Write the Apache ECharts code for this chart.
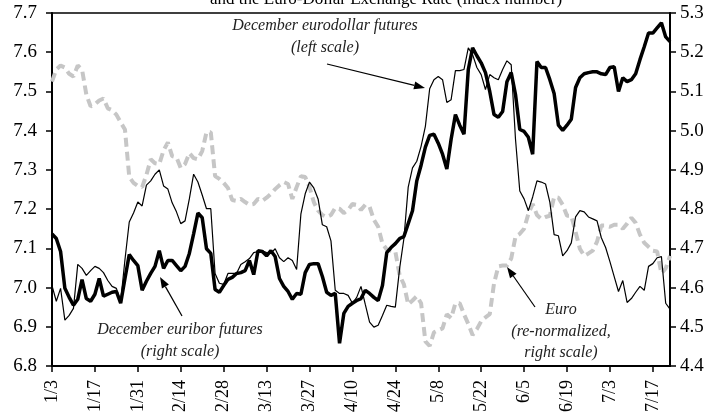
<!DOCTYPE html>
<html>
<head>
<meta charset="utf-8">
<script src="https://cdn.jsdelivr.net/npm/echarts@6/dist/echarts.min.js"></script>
<style>html,body{margin:0;padding:0;background:#fff}#c{width:714px;height:415px}</style>
</head>
<body>
<div id="c"></div>
<script>
const dates = [
"1/3","1/4","1/5","1/6","1/7","1/10","1/11","1/12","1/13","1/14",
"1/17","1/18","1/19","1/20","1/21","1/24","1/25","1/26","1/27","1/28",
"1/31","2/1","2/2","2/3","2/4","2/7","2/8","2/9","2/10","2/11",
"2/14","2/15","2/16","2/17","2/18","2/21","2/22","2/23","2/24","2/25",
"2/28","2/29","3/1","3/2","3/3","3/6","3/7","3/8","3/9","3/10",
"3/13","3/14","3/15","3/16","3/17","3/20","3/21","3/22","3/23","3/24",
"3/27","3/28","3/29","3/30","3/31","4/3","4/4","4/5","4/6","4/7",
"4/10","4/11","4/12","4/13","4/14","4/17","4/18","4/19","4/20","4/21",
"4/24","4/25","4/26","4/27","4/28","5/1","5/2","5/3","5/4","5/5",
"5/8","5/9","5/10","5/11","5/12","5/15","5/16","5/17","5/18","5/19",
"5/22","5/23","5/24","5/25","5/26","5/29","5/30","5/31","6/1","6/2",
"6/5","6/6","6/7","6/8","6/9","6/12","6/13","6/14","6/15","6/16",
"6/19","6/20","6/21","6/22","6/23","6/26","6/27","6/28","6/29","6/30",
"7/3","7/4","7/5","7/6","7/7","7/10","7/11","7/12","7/13","7/14",
"7/17","7/18","7/19","7/20","7/21"];

// December eurodollar futures (left scale)
const eurodollar = [
7.005,6.965,6.998,6.917,6.929,6.947,7.059,7.049,7.031,7.043,
7.054,7.049,7.038,7.018,7.003,6.998,6.965,7.071,7.167,7.190,
7.218,7.208,7.261,7.272,7.289,7.300,7.259,7.251,7.216,7.193,
7.163,7.170,7.226,7.289,7.269,7.236,7.201,7.201,7.036,7.011,
7.008,7.036,7.036,7.036,7.059,7.066,7.074,7.089,7.092,7.094,
7.089,7.087,7.099,7.076,7.066,7.076,7.069,7.046,7.188,7.239,
7.269,7.254,7.226,7.160,7.155,7.119,6.993,6.985,6.985,6.980,
6.960,6.975,7.003,6.957,6.912,6.899,6.904,6.929,6.955,6.952,
6.950,7.049,7.125,7.256,7.305,7.322,7.360,7.411,7.507,7.530,
7.538,7.530,7.472,7.479,7.553,7.553,7.556,7.611,7.594,7.561,
7.543,7.505,7.543,7.535,7.530,7.556,7.578,7.568,7.378,7.246,
7.226,7.196,7.231,7.272,7.269,7.264,7.218,7.135,7.132,7.081,
7.094,7.114,7.180,7.196,7.193,7.180,7.175,7.170,7.127,7.102,
7.066,7.028,6.990,7.018,6.962,6.972,6.988,7.003,6.993,7.054,
7.061,7.076,7.079,6.960,6.945];

// December euribor futures (right scale)
const euribor = [
4.737,4.725,4.692,4.598,4.575,4.555,4.570,4.620,4.572,4.565,
4.583,4.623,4.578,4.583,4.588,4.590,4.560,4.623,4.684,4.669,
4.656,4.593,4.616,4.636,4.654,4.694,4.649,4.669,4.669,4.656,
4.643,4.654,4.687,4.737,4.790,4.778,4.699,4.687,4.595,4.588,
4.605,4.621,4.626,4.636,4.638,4.643,4.669,4.633,4.694,4.692,
4.681,4.694,4.679,4.623,4.603,4.590,4.570,4.585,4.583,4.638,
4.659,4.661,4.661,4.628,4.588,4.580,4.585,4.458,4.534,4.552,
4.560,4.567,4.572,4.593,4.585,4.575,4.567,4.605,4.689,4.702,
4.712,4.725,4.730,4.763,4.796,4.872,4.912,4.958,4.988,4.991,
4.968,4.940,4.902,4.978,5.041,5.014,4.991,5.156,5.211,5.191,
5.173,5.148,5.100,5.041,5.034,5.049,5.125,5.148,5.092,5.003,
4.998,4.983,4.940,5.176,5.161,5.161,5.130,5.095,5.014,5.001,
5.014,5.029,5.110,5.135,5.145,5.148,5.150,5.150,5.145,5.143,
5.161,5.163,5.100,5.135,5.125,5.130,5.145,5.181,5.214,5.249,
5.249,5.262,5.275,5.239,5.227];

// Euro, re-normalized (right scale)
const euro = [
5.125,5.156,5.166,5.161,5.145,5.138,5.166,5.156,5.092,5.062,
5.067,5.077,5.082,5.057,5.052,5.041,5.021,5.003,4.882,4.867,
4.859,4.856,4.887,4.927,4.917,4.915,4.950,4.970,4.935,4.932,
4.905,4.915,4.943,4.930,4.927,4.948,4.996,4.996,4.884,4.877,
4.867,4.854,4.823,4.821,4.826,4.818,4.811,4.813,4.826,4.821,
4.829,4.839,4.851,4.861,4.869,4.864,4.826,4.856,4.884,4.882,
4.856,4.818,4.796,4.785,4.780,4.785,4.803,4.801,4.790,4.798,
4.813,4.811,4.798,4.811,4.806,4.773,4.755,4.712,4.697,4.694,
4.692,4.631,4.608,4.557,4.567,4.578,4.560,4.463,4.451,4.486,
4.491,4.496,4.532,4.522,4.560,4.560,4.532,4.507,4.479,4.494,
4.514,4.524,4.532,4.611,4.654,4.656,4.656,4.674,4.730,4.737,
4.750,4.788,4.813,4.785,4.775,4.780,4.783,4.831,4.829,4.811,
4.783,4.783,4.742,4.699,4.681,4.687,4.694,4.717,4.758,4.758,
4.755,4.760,4.760,4.750,4.763,4.778,4.765,4.735,4.714,4.704,
4.694,4.692,4.636,4.649,4.681];

const leftMin = 6.8, leftMax = 7.7, rightMin = 4.4, rightMax = 5.3, step = 0.1;
const titleText = "and the Euro-Dollar Exchange Rate (index number)";

const serif = '"Liberation Serif", "Times New Roman", serif';
const chart = echarts.init(document.getElementById('c'), null, {renderer: 'canvas'});

function arrow(x1, y1, x2, y2) {
  const dx = x2 - x1, dy = y2 - y1, len = Math.hypot(dx, dy);
  const ux = dx / len, uy = dy / len, L = 11, w = 4;
  const bx = x2 - L * ux, by = y2 - L * uy;
  return [
    {type: 'line', shape: {x1: x1, y1: y1, x2: bx, y2: by}, style: {stroke: '#000', lineWidth: 1.2}, z: 100},
    {type: 'polygon', shape: {points: [[x2, y2], [bx - w * uy, by + w * ux], [bx + w * uy, by - w * ux]]}, style: {fill: '#000'}, z: 100}
  ];
}
function label(lines, cx, y0, lh) {
  return lines.map((t, k) => ({
    type: 'text', x: cx, y: y0 + k * lh, z: 100,
    style: {text: t, font: 'italic 16px ' + serif, fill: '#222', align: 'center', verticalAlign: 'middle'}
  }));
}

const option = {
  animation: false,
  backgroundColor: '#fff',
  grid: {left: 52, right: 44, top: 13, bottom: 47, show: true, borderColor: '#000', borderWidth: 1.5, backgroundColor: 'transparent'},
  xAxis: {
    type: 'category', data: dates, boundaryGap: false,
    axisLine: {lineStyle: {color: '#000', width: 2}},
    axisTick: {interval: 9, length: 6, lineStyle: {color: '#000', width: 1.5}},
    axisLabel: {interval: 9, rotate: 90, margin: 14, fontSize: 18, fontFamily: serif, color: '#000'},
    splitLine: {show: false}
  },
  yAxis: [
    {type: 'value', min: leftMin, max: leftMax, interval: step, position: 'left',
     axisLine: {show: true, lineStyle: {color: '#000', width: 2}},
     axisTick: {show: true, length: 6, lineStyle: {color: '#000', width: 1.5}},
     axisLabel: {fontSize: 19, fontFamily: serif, color: '#000', margin: 15, formatter: v => v.toFixed(1)},
     splitLine: {show: false}},
    {type: 'value', min: rightMin, max: rightMax, interval: step, position: 'right',
     axisLine: {show: true, lineStyle: {color: '#000', width: 2}},
     axisTick: {show: true, length: 6, lineStyle: {color: '#000', width: 1.5}},
     axisLabel: {fontSize: 19, fontFamily: serif, color: '#000', margin: 10, formatter: v => v.toFixed(1)},
     splitLine: {show: false}}
  ],
  series: [
    {name: 'Euro', type: 'line', yAxisIndex: 1, data: euro, symbol: 'none', z: 2,
     lineStyle: {color: '#c6c6c6', width: 4, type: [9, 5]}},
    {name: 'Eurodollar', type: 'line', yAxisIndex: 0, data: eurodollar, symbol: 'none', z: 3,
     lineStyle: {color: '#000', width: 1.2}},
    {name: 'Euribor', type: 'line', yAxisIndex: 1, data: euribor, symbol: 'none', z: 4,
     lineStyle: {color: '#000', width: 3.5}}
  ],
  graphic: [
    {type: 'text', x: 386, y: 8, z: 100,
     style: {text: titleText, font: '17px ' + serif, fill: '#000', align: 'center', verticalAlign: 'bottom'}},
    ...label(['December eurodollar futures', '(left scale)'], 325, 26, 22),
    ...arrow(327, 64, 425, 88),
    ...label(['December euribor futures', '(right scale)'], 180, 330, 22),
    ...arrow(182, 316, 160, 277),
    ...label(['Euro', '(re-normalized,', 'right scale)'], 561, 310, 21.5),
    ...arrow(535, 307, 507, 267)
  ]
};
chart.setOption(option);
</script>
</body>
</html>
